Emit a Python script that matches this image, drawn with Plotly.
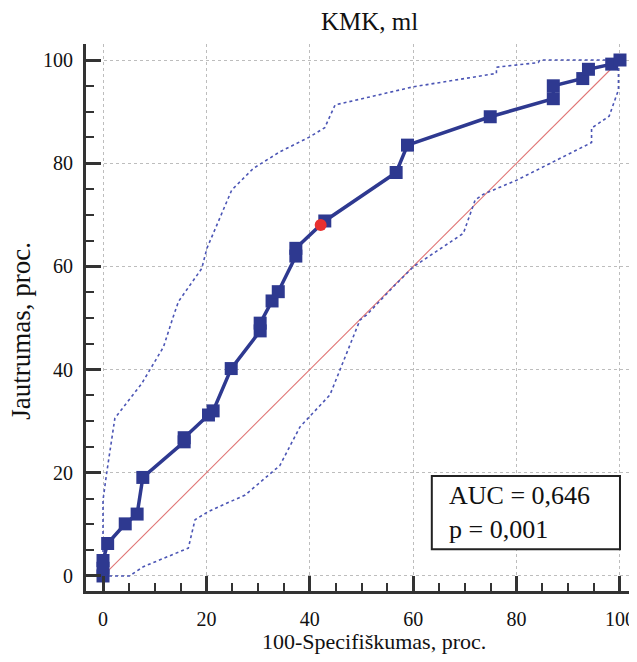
import plotly.graph_objects as go

# ROC curve points (100-Specificity, Sensitivity)
roc_x = [0, 0, 0, 0.9, 4.3, 6.6, 7.7, 15.7, 15.7, 20.4, 21.3, 24.8, 30.4, 30.4, 32.7, 33.9,
         37.3, 37.3, 42.9, 56.7, 58.9, 74.9, 87.1, 87.1, 92.8, 93.9, 98.4, 100]
roc_y = [0, 1.5, 3, 6.3, 10.1, 12.0, 19.1, 26.0, 26.8, 31.2, 32.0, 40.2, 47.5, 49.0, 53.3, 55.1,
         62.0, 63.5, 68.8, 78.2, 83.5, 89.0, 92.5, 95.0, 96.4, 98.2, 99.2, 100]

# upper confidence bound
up_x = [0, 0, 0.7, 2.3, 7.5, 11.7, 13.6, 14.6, 19.1, 20.1, 24.9, 29.1, 34.2, 40.0, 42.9, 44.9,
        49.7, 60.0, 76.1, 76.1, 84.2, 84.5, 100]
up_y = [0, 14.7, 19.9, 30.6, 37.3, 44.4, 50.3, 53.2, 59.6, 63.5, 74.8, 79.0, 82.2, 85.1, 86.9, 91.3,
        92.4, 94.8, 97.4, 98.6, 99.5, 100, 100]

# lower confidence bound
lo_x = [0, 5.1, 7.8, 16.5, 17.8, 20.4, 27.5, 34.2, 38.1, 43.9, 49.7, 51.0, 56.2, 60.0, 69.7, 72.0,
        73.6, 80.0, 94.5, 94.5, 97.9, 99.7, 99.7, 100]
lo_y = [0, 0, 1.8, 5.4, 10.9, 12.5, 15.7, 21.4, 28.9, 35.1, 49.6, 50.6, 56.1, 59.9, 66.4, 72.9,
        74.0, 76.7, 84.0, 86.8, 89.1, 94.2, 100, 100]

diag_x = [0, 100]
diag_y = [0, 100]

# optimal cut-off point
cut_x = [42.1]
cut_y = [68.0]

title_text = "KMK, ml"
x_title = "100-Specifiškumas, proc."
y_title = "Jautrumas, proc."
auc_text = "AUC = 0,646<br>p = 0,001"
tick_vals = [0, 20, 40, 60, 80, 100]

FONT = "Liberation Serif, Times New Roman, serif"
BLUE = "#2e3990"

fig = go.Figure()
fig.add_trace(go.Scatter(x=diag_x, y=diag_y, mode="lines",
                         line=dict(color="#e07575", width=1.1), hoverinfo="skip"))
fig.add_trace(go.Scatter(x=up_x, y=up_y, mode="lines",
                         line=dict(color="#4b55b5", width=1.6, dash="dot")))
fig.add_trace(go.Scatter(x=lo_x, y=lo_y, mode="lines",
                         line=dict(color="#4b55b5", width=1.6, dash="dot")))
fig.add_trace(go.Scatter(x=roc_x, y=roc_y, mode="lines+markers",
                         line=dict(color=BLUE, width=3.5),
                         marker=dict(symbol="square", size=13, color=BLUE)))
fig.add_trace(go.Scatter(x=cut_x, y=cut_y, mode="markers",
                         marker=dict(symbol="circle", size=12, color="#e8302f")))

axis_common = dict(
    showline=True, linewidth=3, linecolor="#333333", mirror=False,
    showgrid=True, gridcolor="#bdbdbd", griddash="dot", gridwidth=1,
    zeroline=False, automargin=False,
    tickmode="array", tickvals=tick_vals,
    ticks="inside", ticklen=15, tickwidth=2.5, tickcolor="#333333",
    minor=dict(dtick=5, tick0=0, ticks="inside", ticklen=8, tickwidth=2,
               tickcolor="#333333", showgrid=False),
    tickfont=dict(family=FONT, size=20, color="#111111"),
)

fig.update_xaxes(range=[-3.29, 103.29], ticklabelstandoff=8, **axis_common)
fig.update_yaxes(range=[-2.91, 103.1], ticklabelstandoff=6, **axis_common)

fig.add_shape(type="rect", xref="x", yref="y", x0=63.6, x1=100, y0=5.2, y1=19.4,
              line=dict(color="#222222", width=2), fillcolor="white", layer="above")
fig.add_annotation(xref="x", yref="y", x=66.5, y=12.3, xanchor="left", yanchor="middle",
                   text=auc_text, showarrow=False, align="left",
                   font=dict(family=FONT, size=26, color="#111111"))

fig.add_annotation(xref="paper", yref="paper", x=0.515, y=1.042, xanchor="center",
                   yanchor="middle", text=title_text, showarrow=False, borderpad=0,
                   font=dict(family=FONT, size=25, color="#111111"))
fig.add_annotation(xref="paper", yref="paper", x=0.523, y=-0.093, xanchor="center",
                   yanchor="middle", text=x_title, showarrow=False,
                   font=dict(family=FONT, size=22, color="#111111"))
fig.add_annotation(xref="paper", yref="paper", x=-0.117, y=0.475, xanchor="center",
                   yanchor="middle", text=y_title, showarrow=False, textangle=-90,
                   borderpad=0,
                   font=dict(family=FONT, size=27, color="#111111"))

# the page body adds an 8px offset, so the figure is 8px smaller and margins shifted
fig.update_layout(
    width=629, height=654,
    margin=dict(l=78, r=0, t=36, b=71),
    paper_bgcolor="white", plot_bgcolor="white",
    showlegend=False,
    font=dict(family=FONT),
)

fig.write_html("out.html")
